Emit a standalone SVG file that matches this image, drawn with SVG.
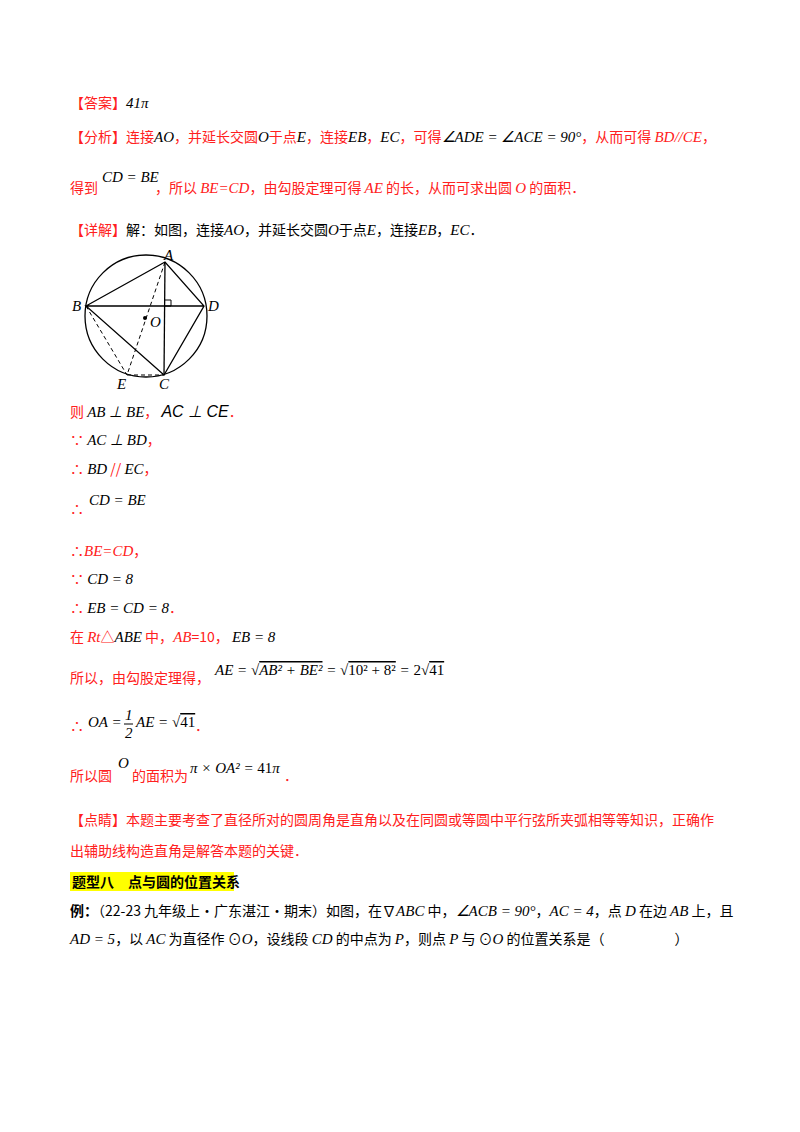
<svg xmlns="http://www.w3.org/2000/svg" width="800" height="1132" viewBox="0 0 800 1132">
<style>
text{font-family:"Noto Sans CJK SC","Liberation Serif",serif;font-size:14px}
.r{fill:#ff2020}
.k{fill:#000}
.m{font-family:"Liberation Serif",serif;font-style:italic;font-size:15px;fill:#000}
.mr{font-family:"Liberation Serif",serif;font-style:italic;font-size:15px;fill:#ff2020}
.b{font-weight:bold}
.ln{stroke:#000;stroke-width:1.3;fill:none}
.d{stroke:#000;stroke-width:1;fill:none;stroke-dasharray:4 3}
.lb{font-family:"Liberation Serif",serif;font-style:italic;font-size:15px;fill:#000}
</style>
<rect width="800" height="1132" fill="#fff"/>
<text x="70" y="108" class="r">【答案】<tspan class="m" font-style="normal">41</tspan><tspan class="m">π</tspan></text>
<text x="70" y="142" class="r">【分析】连接<tspan class="m">AO</tspan>，并延长交圆<tspan class="m">O</tspan>于点<tspan class="m">E</tspan>，连接<tspan class="m">EB</tspan>，<tspan class="m" font-size="12">EC</tspan>，可得<tspan class="m">∠ADE = ∠ACE = 90°</tspan>，从而可得 <tspan class="mr">BD//CE</tspan>，</text>
<text x="70" y="193" class="r">得到</text>
<text x="102" y="182" class="m">CD = BE</text>
<text x="155" y="193" class="r">，所以 <tspan class="mr">BE=CD</tspan>，由勾股定理可得 <tspan class="mr">AE</tspan> 的长，从而可求出圆 <tspan class="mr">O</tspan> 的面积．</text>
<text x="70" y="235" class="r">【详解】<tspan class="k">解：如图，连接</tspan><tspan class="m">AO</tspan><tspan class="k">，并延长交圆</tspan><tspan class="m">O</tspan><tspan class="k">于点</tspan><tspan class="m">E</tspan><tspan class="k">，连接</tspan><tspan class="m">EB</tspan><tspan class="k">，</tspan><tspan class="m" font-size="12">EC</tspan><tspan class="k">．</tspan></text>
<g id="figure">
<circle cx="146" cy="316" r="61" class="ln"/>
<polyline points="86,306 165,262 204,306 164,375 86,306 204,306" class="ln"/>
<line x1="165" y1="262" x2="164" y2="375" class="ln"/>
<polyline points="165,306 171,306 171,300 165,300" stroke="#000" stroke-width="1" fill="none"/>
<line x1="165" y1="262" x2="127" y2="375" class="d"/>
<line x1="86" y1="306" x2="127" y2="375" class="d"/>
<line x1="127" y1="375" x2="164" y2="375" class="d"/>
<circle cx="145" cy="318" r="2" fill="#000"/>
<text x="164" y="260" class="lb">A</text>
<text x="72" y="311" class="lb">B</text>
<text x="208" y="311" class="lb">D</text>
<text x="150" y="327" class="lb">O</text>
<text x="159" y="389" class="lb">C</text>
<text x="117" y="389" class="lb">E</text>
</g>
<text x="70" y="417" class="r">则 <tspan class="m">AB ⊥ BE</tspan>，  <tspan font-family="Liberation Sans,sans-serif" font-style="italic" font-size="16" fill="#000">AC ⊥ CE</tspan>．</text>
<text x="70" y="445" class="r">∵ <tspan class="m">AC ⊥ BD</tspan>，</text>
<text x="70" y="474" class="r">∴ <tspan class="m">BD</tspan> // <tspan class="m" font-size="12">EC</tspan>，</text>
<text x="70" y="514" class="r">∴</text>
<text x="89" y="505" class="m">CD = BE</text>
<text x="70" y="556" class="r">∴<tspan class="mr">BE=CD</tspan>，</text>
<text x="70" y="584" class="r">∵ <tspan class="m">CD = 8</tspan></text>
<text x="70" y="613" class="r">∴ <tspan class="m">EB = CD = 8</tspan>．</text>
<text x="70" y="642" class="r">在 <tspan class="mr">Rt</tspan>△<tspan class="m" font-size="12">ABE</tspan> 中，<tspan class="mr">AB</tspan>=10，  <tspan class="m">EB = 8</tspan></text>
<text x="70" y="683" class="r">所以，由勾股定理得，</text>
<text x="215" y="675" class="m">AE = √<tspan text-decoration="overline">AB² + BE²</tspan> = √<tspan text-decoration="overline"><tspan font-style="normal">10² + 8²</tspan></tspan> = <tspan font-style="normal">2</tspan>√<tspan font-style="normal" text-decoration="overline">41</tspan></text>
<text x="70" y="731" class="r">∴</text>
<text x="88" y="727" class="m">OA =</text>
<text x="125" y="720" class="m" font-style="normal">1</text>
<line x1="124" y1="724" x2="133" y2="724" stroke="#000" stroke-width="1"/>
<text x="125" y="738" class="m" font-style="normal">2</text>
<text x="136" y="727" class="m">AE = √<tspan font-style="normal" text-decoration="overline">41</tspan></text>
<text x="195" y="731" class="r">．</text>
<text x="70" y="781" class="r">所以圆</text>
<text x="118" y="768" class="m">O</text>
<text x="132" y="781" class="r">的面积为</text>
<text x="190" y="773" class="m">π × OA² = <tspan font-style="normal">41</tspan>π</text>
<text x="284" y="781" class="r">．</text>
<text x="70" y="825" class="r">【点睛】本题主要考查了直径所对的圆周角是直角以及在同圆或等圆中平行弦所夹弧相等等知识，正确作</text>
<text x="70" y="856" class="r">出辅助线构造直角是解答本题的关键．</text>
<rect x="70" y="872" width="164" height="19" fill="#ffff00"/>
<text x="72" y="887" class="k b">题型八　点与圆的位置关系</text>
<text x="70" y="916" class="k"><tspan class="b">例：</tspan>（22-23 九年级上·广东湛江·期末）如图，在∇<tspan class="m">ABC</tspan> 中，<tspan class="m">∠ACB = 90°</tspan>，<tspan class="m">AC = 4</tspan>，点 <tspan class="m">D</tspan> 在边 <tspan class="m">AB</tspan> 上，且</text>
<text x="70" y="944" class="k"><tspan class="m">AD = 5</tspan>，以 <tspan class="m">AC</tspan> 为直径作 ⊙<tspan class="m">O</tspan>，设线段 <tspan class="m">CD</tspan> 的中点为 <tspan class="m">P</tspan>，则点 <tspan class="m">P</tspan> 与 ⊙<tspan class="m">O</tspan> 的位置关系是（　　　　　）</text>
</svg>
